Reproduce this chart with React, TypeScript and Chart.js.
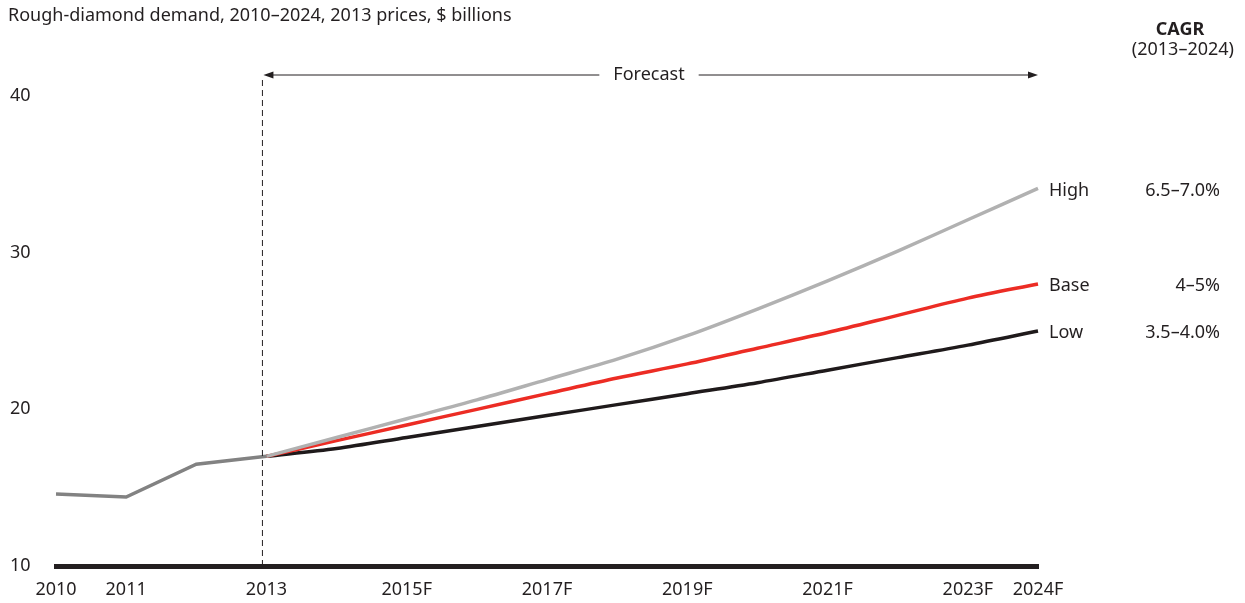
import React, { useEffect, useRef } from "react";
import { Chart, registerables } from "chart.js";

Chart.register(...registerables);

const years = ["2010", "2011", "2012", "2013", "2014", "2015F", "2016F", "2017F", "2018F", "2019F", "2020F", "2021F", "2022F", "2023F", "2024F"];
const hiddenYears = ["2012", "2014", "2016F", "2018F", "2020F", "2022F"];
const historical = [14.6, 14.4, 16.5, 17.0, null, null, null, null, null, null, null, null, null, null, null];
const high = [null, null, null, 17.0, 18.2, 19.4, 20.6, 21.9, 23.2, 24.7, 26.4, 28.2, 30.1, 32.1, 34.1];
const base = [null, null, null, 17.0, 18.0, 19.0, 20.0, 21.0, 22.0, 22.9, 23.9, 24.9, 26.0, 27.1, 28.0];
const low = [null, null, null, 17.0, 17.5, 18.2, 18.9, 19.6, 20.3, 21.0, 21.7, 22.5, 23.3, 24.1, 25.0];
const scenarioNames = ["High", "Base", "Low"];
const cagrValues = ["6.5–7.0%", "4–5%", "3.5–4.0%"];
const yTicks = [10, 20, 30, 40];
const forecastStart = "2013";

const FONT = "'Noto Sans', sans-serif";
const SIZE = 18;
const INK = "#231f20";

const annotations = {
  id: "annotations",
  afterDatasetsDraw(chart: any) {
    const { ctx, chartArea, scales } = chart;
    const xs = scales.x;
    ctx.save();
    ctx.fillStyle = INK;
    ctx.font = `${SIZE}px ${FONT}`;
    ctx.textAlign = "left";
    ctx.textBaseline = "middle";
    ctx.fillText("Rough-diamond demand, 2010–2024, 2013 prices, $ billions", 8, 16);

    // forecast divider
    const xStart = xs.getPixelForValue(years.indexOf(forecastStart)) - 4;
    ctx.strokeStyle = INK;
    ctx.lineWidth = 1;
    ctx.setLineDash([6, 4]);
    ctx.beginPath();
    ctx.moveTo(xStart, 80);
    ctx.lineTo(xStart, chartArea.bottom);
    ctx.stroke();
    ctx.setLineDash([]);

    // forecast arrow
    const xEnd = chartArea.right;
    const ay = 75;
    const mid = 649;
    ctx.textAlign = "center";
    ctx.fillText("Forecast", mid, ay);
    const tw = ctx.measureText("Forecast").width;
    ctx.beginPath();
    ctx.moveTo(xStart + 4, ay);
    ctx.lineTo(mid - tw / 2 - 14, ay);
    ctx.moveTo(mid + tw / 2 + 14, ay);
    ctx.lineTo(xEnd - 4, ay);
    ctx.stroke();
    ctx.beginPath();
    ctx.moveTo(xStart + 1, ay);
    ctx.lineTo(xStart + 11, ay - 3.5);
    ctx.lineTo(xStart + 11, ay + 3.5);
    ctx.closePath();
    ctx.moveTo(xEnd, ay);
    ctx.lineTo(xEnd - 10, ay - 3.5);
    ctx.lineTo(xEnd - 10, ay + 3.5);
    ctx.closePath();
    ctx.fill();

    // scenario labels
    [1, 2, 3].forEach((di, i) => {
      const meta = chart.getDatasetMeta(di);
      const pt = meta.data[meta.data.length - 1];
      ctx.font = `${SIZE}px ${FONT}`;
      ctx.textAlign = "left";
      ctx.fillText(scenarioNames[i], chartArea.right + 11, pt.y + 2);
      ctx.textAlign = "right";
      ctx.fillText(cagrValues[i], 1220, pt.y + 2);
    });

    // CAGR header
    ctx.textAlign = "center";
    ctx.font = `bold ${SIZE}px ${FONT}`;
    ctx.fillText("CAGR", 1180, 30);
    ctx.font = `${SIZE}px ${FONT}`;
    ctx.textAlign = "right";
    ctx.fillText("(2013–2024)", 1234, 50);
    ctx.restore();
  },
};

export default function App() {
  const ref = useRef<HTMLCanvasElement>(null);
  useEffect(() => {
    document.body.style.margin = "0";
    const chart = new Chart(ref.current as HTMLCanvasElement, {
      type: "line",
      data: {
        labels: years,
        datasets: [
          { label: "Historical", data: historical, borderColor: "#828282", borderWidth: 3.5, pointRadius: 0, tension: 0, order: 0 },
          { label: "High", data: high, borderColor: "#b1b1b1", borderWidth: 3.5, pointRadius: 0, tension: 0.3, order: 1 },
          { label: "Base", data: base, borderColor: "#ec2c24", borderWidth: 3.5, pointRadius: 0, tension: 0.3, order: 2 },
          { label: "Low", data: low, borderColor: "#1f1a1b", borderWidth: 3.5, pointRadius: 0, tension: 0.3, order: 3 },
        ],
      },
      options: {
        animation: false,
        responsive: false,
        layout: { padding: { left: 10, right: 207, top: 96, bottom: 0 } },
        plugins: { legend: { display: false }, tooltip: { enabled: false } },
        scales: {
          x: {
            type: "category",
            offset: false,
            grid: { display: false, drawTicks: false },
            border: { display: true, color: INK, width: 5 },
            ticks: {
              autoSkip: false,
              maxRotation: 0,
              padding: 13,
              color: INK,
              font: { family: FONT, size: SIZE },
              callback: (v: any, i: number) => (hiddenYears.includes(years[i]) ? "" : years[i]),
            },
            afterFit: (s: any) => { s.height = 37; },
          },
          y: {
            min: 10,
            max: 40,
            afterBuildTicks: (s: any) => { s.ticks = yTicks.map((v) => ({ value: v })); },
            grid: { display: false, drawTicks: false },
            border: { display: false },
            ticks: { crossAlign: "far", padding: 0, color: INK, font: { family: FONT, size: SIZE } },
            afterFit: (s: any) => { s.width = 46; },
          },
        },
      },
      plugins: [annotations],
    });
    return () => chart.destroy();
  }, []);
  return <canvas ref={ref} width={1245} height={603} style={{ display: "block" }} />;
}
